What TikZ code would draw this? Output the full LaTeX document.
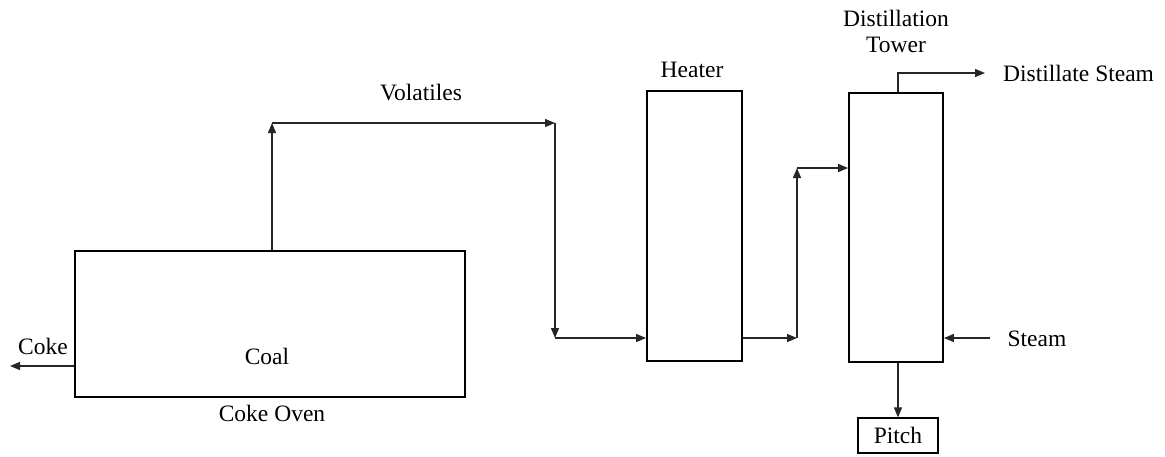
\documentclass[tikz,border=0pt]{standalone}
\usepackage{fontspec}
\setmainfont{Liberation Serif}
\usetikzlibrary{arrows.meta}
\begin{document}
\begin{tikzpicture}[x=1pt,y=-1pt,
  unitbox/.style={draw=black,line width=1.8pt,rectangle,inner sep=0pt},
  smallbox/.style={draw=black,line width=1.2pt,rectangle,inner sep=0pt},
  arr/.style={draw=black!85,line width=1.3pt,-{Triangle[length=10pt,width=8pt]}},
  lbl/.style={font=\fontsize{23.5}{26}\selectfont,inner sep=0pt,align=center}]
\useasboundingbox (0,0) rectangle (1165,456);
% boxes
\node[unitbox,minimum width=390pt,minimum height=146pt] (oven) at (270,324) {};
\node[unitbox,minimum width=95pt,minimum height=270pt] (heater) at (694.5,226) {};
\node[unitbox,minimum width=94pt,minimum height=269pt] (tower) at (896,227.5) {};
\node[smallbox,minimum width=80pt,minimum height=35pt] (pitch) at (898,435.5) {};
% labels
\node[lbl] (coal) at (267,356) {Coal};
\node[lbl] (ovenlbl) at (272,413) {Coke Oven};
\node[lbl] (cokelbl) at (43,346) {Coke};
\node[lbl] (vol) at (421,93) {Volatiles};
\node[lbl] (heatlbl) at (692,70) {Heater};
\node[lbl] (towlbl) at (896,31) {Distillation\\Tower};
\node[lbl,anchor=west] (dist) at (1003,73) {Distillate Steam};
\node[lbl] (steam) at (1037,339) {Steam};
\node[lbl] (pitchlbl) at (pitch.center) {Pitch};
% coordinates
\coordinate (v1) at (272,123);
\coordinate (v2) at (555,123);
\coordinate (v3) at (555,338);
\coordinate (h1) at (797,338);
\coordinate (h2) at (797,168);
\coordinate (t1) at (898,73);
\coordinate (t2) at (985,73);
\coordinate (s1) at (990,338);
\coordinate (c1) at (10,366);
% connectors
\draw[arr] (oven.north -| v1) -- (v1);
\draw[arr] (v1) -- (v2);
\draw[arr] (v2) -- (v3);
\draw[arr] (v3) -- (v3 -| heater.west);
\draw[arr] (h1 -| heater.east) -- (h1);
\draw[arr] (h1) -- (h2);
\draw[arr] (h2) -- (h2 -| tower.west);
\draw[arr] (tower.north -| t1) -- (t1) -- (t2);
\draw[arr] (s1) -- (s1 -| tower.east);
\draw[arr] (pitch.north |- tower.south) -- (pitch.north);
\draw[arr] (c1 -| oven.west) -- (c1);
\end{tikzpicture}
\end{document}
